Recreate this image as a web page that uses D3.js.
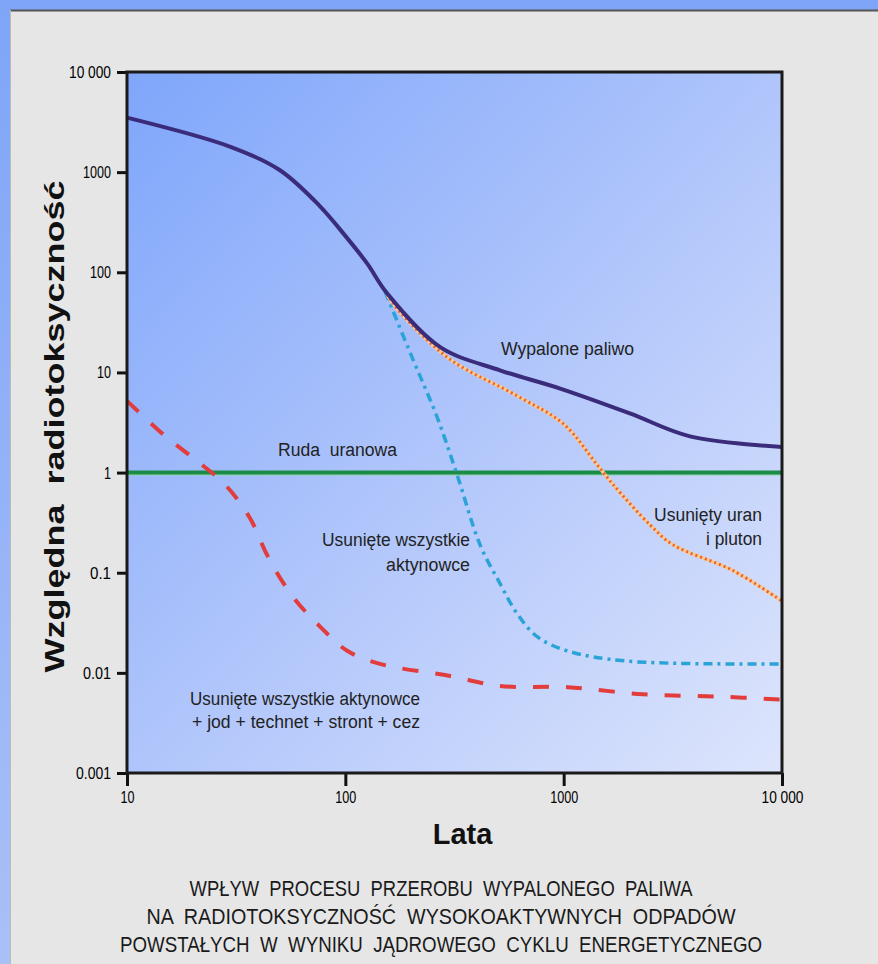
<!DOCTYPE html>
<html>
<head>
<meta charset="utf-8">
<script src="https://cdn.jsdelivr.net/npm/d3@7"></script>
<style>
  body { margin: 0; background: #e6e6e6; }
  svg { display: block; }
  .narrow { font-family: "Liberation Sans Narrow", "Arial Narrow", "Liberation Sans", sans-serif; white-space: pre; }
</style>
</head>
<body>
<div id="chart"></div>
<script>
// x ticks / y ticks
var xTicks = [10, 100, 1000, 10000]
var xTickLabels = ['10', '100', '1000', '10 000']
var yTicks = [10000, 1000, 100, 10, 1, 0.1, 0.01, 0.001]
var yTickLabels = ['10 000', '1000', '100', '10', '1', '0.1', '0.01', '0.001']

// Wypalone paliwo
var fuelYears = [10, 30, 50, 76, 100, 126, 155, 272, 511, 964, 2010, 3790, 10000]
var fuelValues = [3500, 1780, 1050, 464, 231, 122, 62, 17.9, 10.5, 6.9, 3.9, 2.3, 1.8]

// Usunięty uran i pluton
var upYears = [155, 178, 302, 611, 1000, 1422, 1684, 2488, 3170, 5970, 10000]
var upValues = [60, 40, 13.5, 5.85, 3.05, 1.2, 0.76, 0.30, 0.19, 0.105, 0.052]

// Usunięte wszystkie aktynowce
var actYears = [152, 204, 263, 325, 414, 511, 612, 756, 1037, 1950, 10000]
var actValues = [64, 13.5, 3.6, 0.95, 0.19, 0.078, 0.039, 0.023, 0.0166, 0.0131, 0.0123]

// Usunięte wszystkie aktynowce + jod + technet + stront + cez
var allYears = [10, 14.6, 20.5, 28.1, 36.6, 44.2, 57, 76.6, 102, 144, 302, 511, 1047, 2310, 5050, 10000]
var allValues = [5.2, 2.42, 1.35, 0.76, 0.35, 0.145, 0.059, 0.029, 0.0166, 0.0123, 0.0093, 0.0074, 0.0072, 0.0061, 0.0058, 0.0054]

// Ruda uranowa
var oreYears = [10, 10000]
var oreValues = [1, 1]

var captionLines = [
  'WPŁYW  PROCESU  PRZEROBU  WYPALONEGO  PALIWA',
  'NA  RADIOTOKSYCZNOŚĆ  WYSOKOAKTYWNYCH  ODPADÓW',
  'POWSTAŁYCH  W  WYNIKU  JĄDROWEGO  CYKLU  ENERGETYCZNEGO'
]

var width = 878
var height = 964

var svg = d3.select('#chart').append('svg')
  .attr('width', width)
  .attr('height', height)

var defs = svg.append('defs')
var outer = defs.append('linearGradient').attr('id', 'outer')
  .attr('x1', 0).attr('y1', 0).attr('x2', 0).attr('y2', 1)
outer.append('stop').attr('offset', 0).attr('stop-color', '#7ea5f7')
outer.append('stop').attr('offset', 1).attr('stop-color', '#a9c0f7')

var plotBg = defs.append('linearGradient').attr('id', 'plotbg')
  .attr('x1', 0).attr('y1', 0).attr('x2', 1).attr('y2', 1)
plotBg.append('stop').attr('offset', 0).attr('stop-color', '#7fa6fb')
plotBg.append('stop').attr('offset', 0.55).attr('stop-color', '#b4c8fb')
plotBg.append('stop').attr('offset', 1).attr('stop-color', '#dde5fc')

// frame
svg.append('rect').attr('width', width).attr('height', height).attr('fill', 'url(#outer)')
svg.append('rect').attr('x', 10).attr('y', 10).attr('width', width - 10).attr('height', height - 10)
  .attr('fill', '#e6e6e6')
svg.append('line').attr('x1', 10).attr('x2', width).attr('y1', 10.5).attr('y2', 10.5)
  .attr('stroke', '#555').attr('stroke-width', 2)
svg.append('line').attr('x1', 10.5).attr('x2', 10.5).attr('y1', 10).attr('y2', height)
  .attr('stroke', '#bbb').attr('stroke-width', 1)

var x = d3.scaleLog().domain([10, 10000]).range([127, 782])
var y = d3.scaleLog().domain([0.001, 10000]).range([773, 72])

// plot area
svg.append('rect')
  .attr('x', x(10)).attr('y', y(10000))
  .attr('width', x(10000) - x(10)).attr('height', y(0.001) - y(10000))
  .attr('fill', 'url(#plotbg)')

var line = d3.line()
  .x(function(d) { return x(d[0]) })
  .y(function(d) { return y(d[1]) })
  .curve(d3.curveCatmullRom.alpha(0.5))

function pairs(xs, ys) {
  return xs.map(function(v, i) { return [v, ys[i]] })
}

// Ruda uranowa
svg.append('path').datum(pairs(oreYears, oreValues))
  .attr('d', line).attr('fill', 'none')
  .attr('stroke', '#8fd4a8').attr('stroke-width', 2)
  .attr('transform', 'translate(0,2)')
svg.append('path').datum(pairs(oreYears, oreValues))
  .attr('d', line).attr('fill', 'none')
  .attr('stroke', '#1b8c48').attr('stroke-width', 4)

// red dashed
svg.append('path').datum(pairs(allYears, allValues))
  .attr('d', line).attr('fill', 'none')
  .attr('stroke', '#e23c3c').attr('stroke-width', 4)
  .attr('stroke-dasharray', '16,17')

// cyan dash-dot
svg.append('path').datum(pairs(actYears, actValues))
  .attr('d', line).attr('fill', 'none')
  .attr('stroke', '#2aa3d6').attr('stroke-width', 3.5)
  .attr('stroke-dasharray', '9,5,3,5')

// orange dotted
svg.append('path').datum(pairs(upYears, upValues))
  .attr('d', line).attr('fill', 'none')
  .attr('stroke', '#fcc894').attr('stroke-width', 3.5)
svg.append('path').datum(pairs(upYears, upValues))
  .attr('d', line).attr('fill', 'none')
  .attr('stroke', '#e8632c').attr('stroke-width', 3)
  .attr('stroke-dasharray', '2,3')

// Wypalone paliwo
svg.append('path').datum(pairs(fuelYears, fuelValues))
  .attr('d', line).attr('fill', 'none')
  .attr('stroke', '#3b2b7b').attr('stroke-width', 4)

// axes
var yAxis = d3.axisLeft(y)
  .tickValues(yTicks)
  .tickSize(10)
  .tickPadding(6)
  .tickFormat(function(d, i) { return yTickLabels[i] })

var xAxis = d3.axisBottom(x)
  .tickValues(xTicks)
  .tickSize(13)
  .tickPadding(5)
  .tickFormat(function(d, i) { return xTickLabels[i] })

var gy = svg.append('g')
  .attr('transform', 'translate(' + x(10) + ',0)')
  .call(yAxis)
  .attr('font-size', 17)
  .attr('font-family', 'Liberation Sans, Arial, sans-serif')
gy.select('.domain').remove()
gy.selectAll('.tick line').attr('stroke', '#111').attr('stroke-width', 3)
gy.selectAll('.tick text').attr('fill', '#000').attr('textLength', function(d, i) { return yTickLabels[i].length * 7 })
  .attr('lengthAdjust', 'spacingAndGlyphs')

var gx = svg.append('g')
  .attr('transform', 'translate(0,' + y(0.001) + ')')
  .call(xAxis)
  .attr('font-size', 17)
  .attr('font-family', 'Liberation Sans, Arial, sans-serif')
gx.select('.domain').remove()
gx.selectAll('.tick line').attr('stroke', '#111').attr('stroke-width', 3)
gx.selectAll('.tick text').attr('fill', '#000').attr('textLength', function(d, i) { return xTickLabels[i].length * 7 })
  .attr('lengthAdjust', 'spacingAndGlyphs')

svg.append('rect')
  .attr('x', x(10)).attr('y', y(10000))
  .attr('width', x(10000) - x(10)).attr('height', y(0.001) - y(10000))
  .attr('fill', 'none').attr('stroke', '#1a1a1a').attr('stroke-width', 3)

// axis titles
svg.append('text')
  .attr('transform', 'translate(64,' + ((y(10000) + y(0.001)) / 2 + 4) + ') rotate(-90)')
  .attr('text-anchor', 'middle')
  .style('font-family', 'Liberation Sans, Arial, sans-serif')
  .style('font-weight', 'bold')
  .style('font-size', '27px')
  .style('white-space', 'pre')
  .attr('fill', '#111')
  .attr('textLength', 492)
  .attr('lengthAdjust', 'spacingAndGlyphs')
  .text('Względna  radiotoksyczność')

svg.append('text')
  .attr('x', (x(10) + x(10000)) / 2 + 8)
  .attr('y', 844)
  .attr('text-anchor', 'middle')
  .style('font-family', 'Liberation Sans, Arial, sans-serif')
  .style('font-weight', 'bold')
  .style('font-size', '29px')
  .attr('fill', '#111')
  .text('Lata')

// series labels
var labels = [
  {t: 'Wypalone paliwo', x: 501, y: 355, a: 'start', w: 133},
  {t: 'Ruda  uranowa', x: 278, y: 456, a: 'start', w: 119},
  {t: 'Usunięte wszystkie', x: 470, y: 546, a: 'end', w: 148},
  {t: 'aktynowce', x: 470, y: 571, a: 'end', w: 84},
  {t: 'Usunięty uran', x: 762, y: 521, a: 'end', w: 108},
  {t: 'i pluton', x: 762, y: 545, a: 'end', w: 56},
  {t: 'Usunięte wszystkie aktynowce', x: 190, y: 705, a: 'start', w: 230},
  {t: '+ jod + technet + stront + cez', x: 192, y: 728, a: 'start', w: 228}
]
svg.selectAll('.lbl').data(labels).enter().append('text')
  .attr('class', 'lbl narrow')
  .attr('x', function(d) { return d.x })
  .attr('y', function(d) { return d.y })
  .attr('text-anchor', function(d) { return d.a })
  .attr('textLength', function(d) { return d.w })
  .attr('lengthAdjust', 'spacingAndGlyphs')
  .style('font-size', '18px')
  .attr('fill', '#222')
  .text(function(d) { return d.t })

// caption
var capWidths = [503, 589, 642]
svg.selectAll('.cap').data(captionLines).enter().append('text')
  .attr('class', 'cap narrow')
  .attr('x', 441)
  .attr('y', function(d, i) { return 896 + i * 28 })
  .attr('text-anchor', 'middle')
  .attr('textLength', function(d, i) { return capWidths[i] })
  .attr('lengthAdjust', 'spacingAndGlyphs')
  .style('font-size', '22px')
  .attr('fill', '#1a1a1a')
  .text(function(d) { return d })
</script>
</body>
</html>
